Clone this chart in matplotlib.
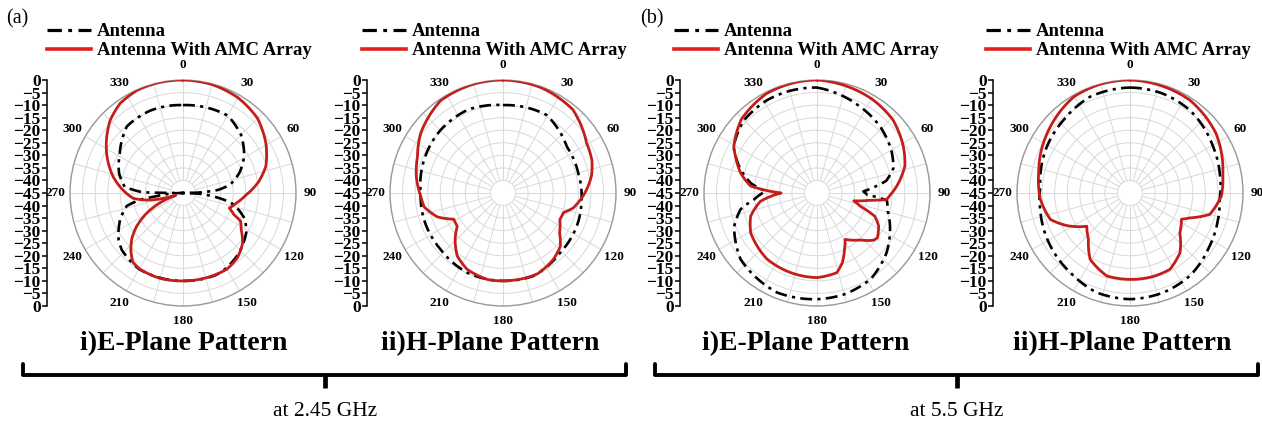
import numpy as np
import matplotlib
matplotlib.use('Agg')
import matplotlib.pyplot as plt

plt.rcParams['font.family'] = ['Liberation Serif', 'DejaVu Serif']

# ---- data (angle in degrees, gain in dB) ----
# (a) 2.45 GHz, E-plane
e245_red_ang = [0, 15, 30, 45, 59, 72, 81, 92, 101, 108, 113, 116, 122, 130, 140, 150, 165, 180, 195, 210,
                216, 222, 228, 234, 241, 247, 252, 257, 260, 264, 273, 283, 296, 305, 315, 325, 336, 348, 360]
e245_red_db = [0, -0.3, -1.2, -3, -6.5, -10.3, -14.3, -20, -23.5, -25.6, -23, -19.5, -17.7, -14, -11.3, -10, -10, -10, -9.8, -10.2,
               -11, -14, -17.5, -22, -28.5, -35, -42, -33, -29, -25, -21, -16.5, -11.3, -7.8, -4, -1.4, -0.2, 0, 0]
e245_blk_ang = [0, 15, 30, 45, 59, 70, 80, 85, 88, 90, 93, 97, 101, 104, 113, 122, 137, 150, 158, 180, 200, 210,
                227, 234, 247, 257, 261, 263, 268, 270, 271, 276, 287, 302, 320, 338, 350, 360]
e245_blk_db = [-10, -9.7, -9.4, -12.3, -16.6, -21, -26, -31, -38, -45, -38, -32, -26, -23.5, -18.2, -15.3, -12.3, -10.5, -9.8, -10, -10, -10,
               -11.7, -13.3, -17.8, -22, -27.6, -34, -42, -45, -29, -21.7, -18.4, -15.3, -10.3, -9.7, -9.8, -10]

# (a) 2.45 GHz, H-plane
h245_red_ang = [0, 20, 40, 59, 70, 79, 90, 102, 108, 115, 125, 133, 143, 157, 180, 190, 205, 216, 226, 234,
                242, 250, 260, 268, 280, 293, 306, 326, 345, 360]
h245_red_db = [0, -0.4, -1.7, -6.2, -7.3, -9.1, -12.4, -16.4, -19.7, -20, -17.5, -13.8, -11.8, -10, -10, -10, -11.4, -14, -18.5, -22.5,
               -22.8, -17.2, -13.1, -12.2, -10, -8, -4.5, -0.6, -0.1, 0]
h245_blk_ang = [0, 29, 54, 75, 95, 114, 136, 160, 180, 204, 228, 251, 270, 293, 315, 337, 360]
h245_blk_db = [-10, -9.4, -13.6, -14, -13.6, -12.8, -12.1, -9.8, -10, -10.2, -11.5, -11.8, -12.2, -10.9, -9.7, -9, -10]

# (b) 5.5 GHz, E-plane
e55_red_ang = [0, 31, 46, 62, 73, 85, 92, 95.5, 97.8, 102, 107, 112, 118, 126.6, 130, 137.5, 148.8, 154, 160, 166,
               180, 198, 217, 239, 250.7, 261.6, 270, 276, 284.6, 294, 299, 314, 333, 350, 360]
e55_red_db = [0, -1.7, -3, -6, -8.4, -13.1, -16, -17.2, -23.7, -30, -27, -20.1, -17.2, -15, -15.7, -19.6, -23.4, -20, -15.5, -12.3,
              -11.3, -11.6, -12, -14.2, -17, -22.2, -30.7, -18.4, -13.6, -9.5, -7.1, -3, -0.6, -0.1, 0]
e55_blk_ang = [0, 26.6, 43.5, 61, 72, 80, 84, 88, 92, 96, 104, 118.6, 131, 148, 165, 180, 202, 229, 248, 258,
               264, 272, 278.5, 287, 299, 314, 332, 345, 360]
e55_blk_db = [-3, -6.6, -8.5, -11, -13, -17, -22, -26.5, -25, -17, -16, -11.9, -8.4, -4.6, -3.2, -2.7, -2.3, -4.7, -9.4, -13.9,
              -19.7, -24.5, -18.3, -13.2, -7, -4, -3, -2.9, -3]

# (b) 5.5 GHz, H-plane
h55_red_ang = [0, 32.7, 55, 65, 78, 92, 105, 112.6, 117, 128.7, 140, 152.4, 165, 180, 195.6, 211, 221.8, 232.4,
               242.7, 251.6, 266, 282, 306, 330, 345, 360]
h55_red_db = [0, -1, -3.3, -5, -7.2, -8.6, -12.1, -19.2, -22, -19.6, -14, -10.7, -10.5, -10.6, -10.7, -14.2, -20.2, -23.3,
              -16.7, -11.6, -9.2, -7.8, -4.3, -0.6, -0.1, 0]
h55_blk_ang = [0, 18, 35.8, 60.8, 77.5, 94, 106.8, 123.7, 144, 161.6, 180, 198.4, 216.9, 236, 257.5, 274, 299, 317.7, 337.5, 360]
h55_blk_db = [-3, -3.3, -4.3, -7.1, -8.4, -9.2, -8.4, -6.9, -4.3, -3.2, -2.7, -3.2, -5.4, -6.9, -8.5, -9.2, -7.1, -5.7, -3.5, -3]

panels = [
    (e245_blk_ang, e245_blk_db, e245_red_ang, e245_red_db, 'i)E-Plane Pattern'),
    (h245_blk_ang, h245_blk_db, h245_red_ang, h245_red_db, 'ii)H-Plane Pattern'),
    (e55_blk_ang, e55_blk_db, e55_red_ang, e55_red_db, 'i)E-Plane Pattern'),
    (h55_blk_ang, h55_blk_db, h55_red_ang, h55_red_db, 'ii)H-Plane Pattern'),
]
legend_labels = ['Antenna', 'Antenna With AMC Array']
r_min, r_max = -45, 0

# ---- layout (pixels) ----
W, H = 1262, 425
R = 113
cy = 193
centers = [183, 503, 817, 1130]
scale_x = [47, 367, 680, 993]
legend_x = [47, 362, 674, 986]
title_x = [184, 490, 806, 1122]

fig = plt.figure(figsize=(W / 100, H / 100), dpi=100)

ov = fig.add_axes([0, 0, 1, 1])
ov.set_xlim(0, W)
ov.set_ylim(H, 0)
ov.axis('off')

for i, (b_ang, b_db, r_ang, r_db, title) in enumerate(panels):
    cx = centers[i]
    ax = fig.add_axes([(cx - R) / W, (H - cy - R) / H, 2 * R / W, 2 * R / H], projection='polar')
    ax.set_theta_zero_location('N')
    ax.set_theta_direction(-1)
    ax.set_rlim(r_min, r_max)
    ax.set_rgrids(np.arange(-40, 1, 5), labels=[])
    ax.set_thetagrids(np.arange(0, 360, 30), [str(a) for a in range(0, 360, 30)],
                      fontsize=9.5, fontweight='bold')
    ax.xaxis.grid(False)
    ax.yaxis.grid(True, color='#d8d8d8', lw=0.7)
    ax.vlines(np.deg2rad(np.arange(0, 360, 15)), -40, 0, color='#d8d8d8', lw=0.7, zorder=1)
    ax.spines['polar'].set_color('#9a9a9a')
    ax.spines['polar'].set_linewidth(1.0)
    ax.tick_params(axis='x', pad=0)

    l1, = ax.plot(np.deg2rad(b_ang), b_db, color='black', lw=1.9, dashes=(4.5, 2, 1.2, 2), zorder=3)
    l2, = ax.plot(np.deg2rad(r_ang), r_db, color='#c41e1a', lw=2.0, zorder=4)
    # draw segments as arcs in the polar plane
    for ln in (l1, l2):
        ln.get_path()._interpolation_steps = 40

    leg = ax.legend([l1, l2], legend_labels, loc='upper left',
                    bbox_to_anchor=(legend_x[i] / W, 1 - 23 / H), bbox_transform=fig.transFigure,
                    frameon=False, prop={'weight': 'bold', 'size': 13.5},
                    handlelength=2.35, handletextpad=0.3, labelspacing=0.1,
                    borderpad=0, borderaxespad=0)
    leg.get_lines()[0].set_linewidth(2.3)
    leg.get_lines()[1].set_color('#e0201c')
    leg.get_lines()[1].set_linewidth(2.6)

    # left dB scale
    sa = fig.add_axes([scale_x[i] / W, (H - cy - R) / H, 0.0005, 2 * R / H])
    sa.set_ylim(-45, 45)
    ticks = np.arange(-45, 46, 5)
    sa.set_yticks(ticks)
    sa.set_yticklabels([str(abs(t) + r_min).replace('-', '\u2212') for t in ticks],
                       fontsize=12.5, fontweight='bold')
    sa.set_xticks([])
    for s in ['top', 'right', 'bottom']:
        sa.spines[s].set_visible(False)
    sa.spines['left'].set_linewidth(1.1)
    sa.tick_params(axis='y', length=3.5, width=1.1, pad=1, direction='out')
    sa.patch.set_visible(False)

    ov.text(title_x[i], 344, title, ha='center', va='center', fontsize=20, fontweight='bold')

ov.text(6, 19, '(a)', ha='left', va='center', fontsize=14.5)
ov.text(640, 19, '(b)', ha='left', va='center', fontsize=14.5)

# braces
for x0, x1, xm, txt in [(23, 626, 325, 'at 2.45 GHz'), (655, 1258, 957, 'at 5.5 GHz')]:
    ov.plot([x0, x0, x1, x1], [364, 375, 375, 364], color='black', lw=2.8,
            solid_joinstyle='round', solid_capstyle='round')
    ov.plot([xm, xm], [375, 388], color='black', lw=3.4, solid_capstyle='butt')
    ov.text(xm, 412, txt, ha='center', va='center', fontsize=15.5)

fig.savefig('out.png', dpi=100)
